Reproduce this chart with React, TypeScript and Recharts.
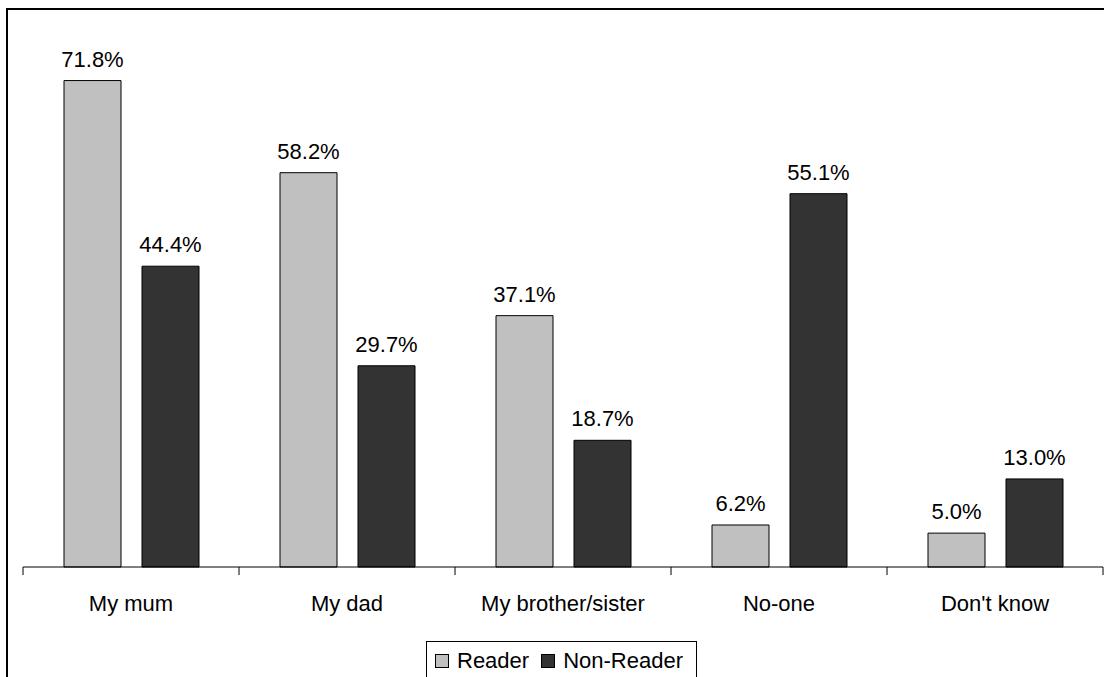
import { BarChart, Bar, XAxis, YAxis, LabelList } from 'recharts';

const categories = ['My mum', 'My dad', 'My brother/sister', 'No-one', "Don't know"];
const readerValues = [71.8, 58.2, 37.1, 6.2, 5.0];
const nonReaderValues = [44.4, 29.7, 18.7, 55.1, 13.0];
const seriesNames = ['Reader', 'Non-Reader'];

const data = categories.map((name, i) => ({
  name,
  reader: readerValues[i],
  nonReader: nonReaderValues[i],
}));

const CHART_W = 1104;
const CHART_H = 677;
const margin = { top: 25, right: 1, left: 23, bottom: 0 };
const band = (CHART_W - margin.left - margin.right) / categories.length;

const FONT = '"Liberation Sans", Arial, sans-serif';

// category label centred in its band, with tick marks on the band edges
function CategoryTick(props: any) {
  const { x, y, payload, index } = props;
  const left = x - band / 2;
  return (
    <g>
      <line x1={left} x2={left} y1={y} y2={y + 8} stroke="#000" />
      {index === categories.length - 1 && (
        <line x1={x + band / 2} x2={x + band / 2} y1={y} y2={y + 8} stroke="#000" />
      )}
      <text x={x} y={y + 44} textAnchor="middle" fontSize={22} fill="#000" fontFamily={FONT}>
        {payload.value}
      </text>
    </g>
  );
}

const pct = (v: number) => `${v.toFixed(1)}%`;

export default function App() {
  return (
    <div
      style={{
        position: 'fixed',
        left: 0,
        top: 0,
        width: CHART_W,
        height: CHART_H,
        overflow: 'hidden',
        background: '#fff',
        fontFamily: FONT,
      }}
    >
      <div
        style={{
          position: 'absolute',
          left: 6,
          top: 8,
          width: 1200,
          height: 800,
          border: '2px solid #000',
        }}
      />
      <div style={{ position: 'absolute', left: 0, top: 0 }}>
        <BarChart width={CHART_W} height={CHART_H} data={data} margin={margin} barCategoryGap={41} barGap={21}>
          <XAxis
            dataKey="name"
            height={110}
            interval={0}
            axisLine={{ stroke: '#000' }}
            tickLine={false}
            tickSize={0}
            tickMargin={0}
            tick={<CategoryTick />}
          />
          <YAxis hide domain={[0, 80]} />
          <Bar dataKey="reader" name={seriesNames[0]} fill="#C0C0C0" stroke="#000" strokeWidth={1} isAnimationActive={false}>
            <LabelList dataKey="reader" position="top" offset={14} formatter={pct} fill="#000" fontSize={22} fontFamily={FONT} />
          </Bar>
          <Bar dataKey="nonReader" name={seriesNames[1]} fill="#333333" stroke="#000" strokeWidth={1} isAnimationActive={false}>
            <LabelList dataKey="nonReader" position="top" offset={14} formatter={pct} fill="#000" fontSize={22} fontFamily={FONT} />
          </Bar>
        </BarChart>
      </div>
      <div
        style={{
          position: 'absolute',
          left: 426,
          top: 641,
          width: 271,
          height: 60,
          border: '1px solid #000',
          boxSizing: 'border-box',
          display: 'flex',
          alignItems: 'flex-start',
          paddingLeft: 8,
          paddingTop: 6,
          fontSize: 22,
          lineHeight: '26px',
          color: '#000',
        }}
      >
        {seriesNames.map((s, i) => (
          <div key={s} style={{ display: 'flex', alignItems: 'center', marginRight: 12 }}>
            <span
              style={{
                display: 'inline-block',
                width: 12,
                height: 12,
                border: '1px solid #000',
                background: i === 0 ? '#C0C0C0' : '#333333',
                marginRight: 8,
              }}
            />
            <span>{s}</span>
          </div>
        ))}
      </div>
    </div>
  );
}
